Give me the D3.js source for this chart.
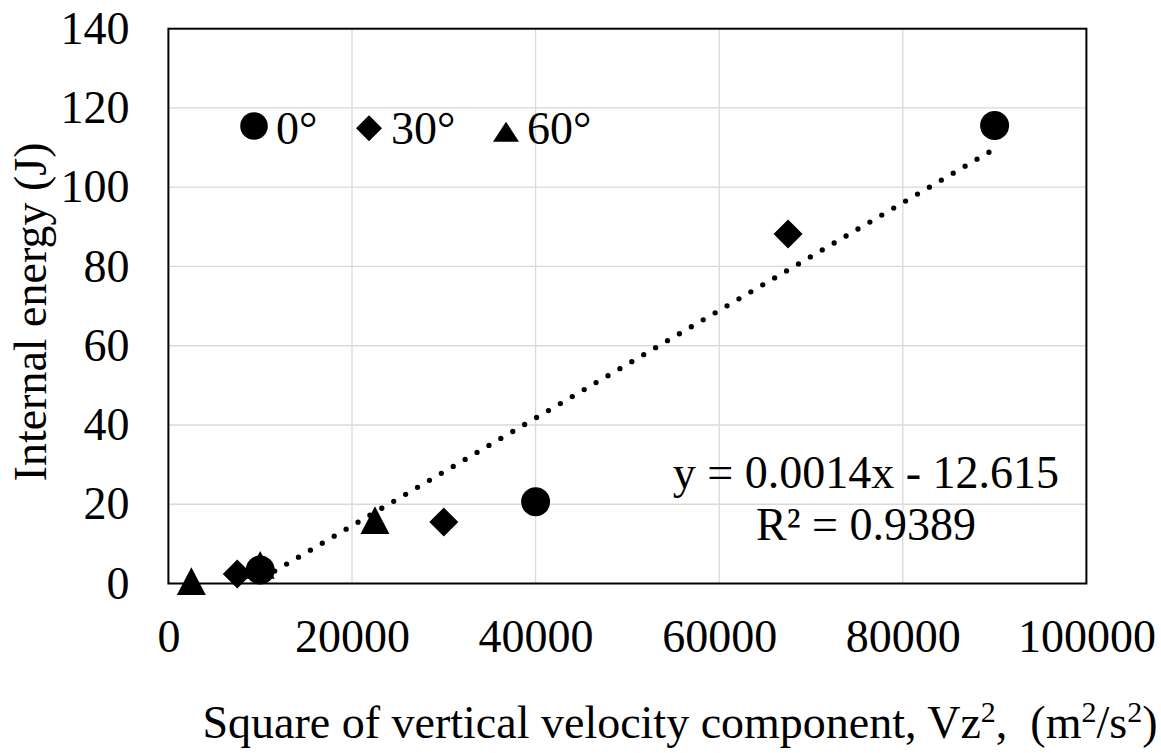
<!DOCTYPE html>
<html>
<head>
<meta charset="utf-8">
<script src="https://cdn.jsdelivr.net/npm/d3@7"></script>
<style>
  body { margin: 0; background: #fff; }
  text { font-family: "Liberation Serif", "Times New Roman", serif; fill: #000; }
</style>
</head>
<body>
<div id="chart-area"></div>
<script>
// values
let series = ["0°", "30°", "60°"];
let x0 = [10000, 40000, 90000];
let y0 = [3.4, 20.6, 115.6];
let x30 = [7500, 30000, 67500];
let y30 = [2.4, 15.5, 88.2];
let x60 = [2500, 22500, 10000];
let y60 = [0.6, 16.0, 4.7];
let xTicks = [0, 20000, 40000, 60000, 80000, 100000];
let yTicks = [0, 20, 40, 60, 80, 100, 120, 140];

let W = 1161, H = 753;
let pLeft = 168.4, pRight = 1086.4, pTop = 28.7, pBottom = 583.5;
let fs = 46;

let svg = d3.select("#chart-area").append("svg")
	.attr("width", W)
	.attr("height", H);

let x = d3.scaleLinear().domain([0, 100000]).range([pLeft, pRight]);
let y = d3.scaleLinear().domain([0, 140]).range([pBottom, pTop]);

// gridlines
svg.append("g").selectAll("line").data(xTicks.slice(1, -1)).enter()
	.append("line")
	.attr("x1", d => x(d)).attr("x2", d => x(d))
	.attr("y1", pTop).attr("y2", pBottom)
	.attr("stroke", "#d9d9d9").attr("stroke-width", 1.3);
svg.append("g").selectAll("line").data(yTicks.slice(1, -1)).enter()
	.append("line")
	.attr("x1", pLeft).attr("x2", pRight)
	.attr("y1", d => y(d)).attr("y2", d => y(d))
	.attr("stroke", "#d9d9d9").attr("stroke-width", 1.3);

// axes (labels only)
let xAxis = svg.append("g")
	.attr("transform", "translate(0," + pBottom + ")")
	.call(d3.axisBottom(x).tickValues(xTicks).tickSize(0).tickPadding(35.5).tickFormat(d3.format("d")));
let yAxis = svg.append("g")
	.attr("transform", "translate(" + pLeft + ",0)")
	.call(d3.axisLeft(y).tickValues(yTicks).tickSize(0).tickPadding(39));
[xAxis, yAxis].forEach(a => {
	a.select(".domain").remove();
	a.selectAll("text").attr("font-size", fs).attr("font-family", "Liberation Serif, Times New Roman, serif").attr("fill", "#000");
});

// frame
svg.append("rect")
	.attr("x", pLeft).attr("y", pTop)
	.attr("width", pRight - pLeft).attr("height", pBottom - pTop)
	.attr("fill", "none").attr("stroke", "#000").attr("stroke-width", 2);

// linear trendline from all points
let allX = x0.concat(x30, x60), allY = y0.concat(y30, y60);
let mx = d3.mean(allX), my = d3.mean(allY);
let slope = d3.sum(allX, (d, i) => (d - mx) * (allY[i] - my)) / d3.sum(allX, d => (d - mx) * (d - mx));
let icpt = my - slope * mx;
let ext = d3.extent(allX);

svg.append("clipPath").attr("id", "plotclip")
	.append("rect").attr("x", pLeft).attr("y", pTop)
	.attr("width", pRight - pLeft).attr("height", pBottom - pTop);

let line = d3.line().x(d => x(d)).y(d => y(slope * d + icpt));
svg.append("path")
	.attr("clip-path", "url(#plotclip)")
	.attr("d", line(ext))
	.attr("fill", "none")
	.attr("stroke", "#000")
	.attr("stroke-width", 5.3)
	.attr("stroke-linecap", "round")
	.attr("stroke-dasharray", "0 13.8");

// marker shapes
function triangle(w, h) {
	return {draw: (ctx) => {
		ctx.moveTo(0, -h / 2);
		ctx.lineTo(w / 2, h / 2);
		ctx.lineTo(-w / 2, h / 2);
		ctx.closePath();
	}};
}
function diamond(r) {
	return {draw: (ctx) => {
		ctx.moveTo(0, -r);
		ctx.lineTo(r, 0);
		ctx.lineTo(0, r);
		ctx.lineTo(-r, 0);
		ctx.closePath();
	}};
}
function circle(r) {
	return {draw: (ctx) => {
		ctx.moveTo(r, 0);
		ctx.arc(0, 0, r, 0, 2 * Math.PI);
	}};
}

let groups = [
	{xs: x60, ys: y60, shape: triangle(29, 27.7)},
	{xs: x30, ys: y30, shape: diamond(14.5)},
	{xs: x0, ys: y0, shape: circle(14.5)}
];
groups.forEach(g => {
	svg.append("g").selectAll("path").data(g.xs).enter()
		.append("path")
		.attr("d", d3.symbol().type(g.shape)())
		.attr("transform", (d, i) => "translate(" + x(d) + "," + y(g.ys[i]) + ")")
		.attr("fill", "#000");
});

// legend
let legendItems = [
	{label: series[0], shape: circle(13.8), mx: 254, my: 126, tx: 276},
	{label: series[1], shape: diamond(13), mx: 369, my: 128.3, tx: 391},
	{label: series[2], shape: triangle(26, 20), mx: 506, my: 131.7, tx: 527}
];
let leg = svg.append("g");
legendItems.forEach(d => {
	leg.append("path")
		.attr("d", d3.symbol().type(d.shape)())
		.attr("transform", "translate(" + d.mx + "," + d.my + ")")
		.attr("fill", "#000");
	leg.append("text")
		.attr("x", d.tx).attr("y", 144)
		.attr("font-size", fs)
		.text(d.label);
});

// equation
svg.append("text")
	.attr("x", 866).attr("y", 488)
	.attr("text-anchor", "middle")
	.attr("font-size", fs)
	.text("y = 0.0014x - 12.615");
svg.append("text")
	.attr("x", 866).attr("y", 540)
	.attr("text-anchor", "middle")
	.attr("font-size", fs)
	.text("R² = 0.9389");

// axis titles
svg.append("text")
	.attr("transform", "translate(46,312) rotate(-90)")
	.attr("text-anchor", "middle")
	.attr("font-size", fs)
	.text("Internal energy (J)");

let xt = svg.append("text")
	.attr("x", 680).attr("y", 738)
	.attr("text-anchor", "middle")
	.attr("font-size", fs)
	.style("white-space", "pre");
let parts = [["Square of vertical velocity component, Vz", 0], ["2", 1], [",  (m", 0], ["2", 1], ["/s", 0], ["2", 1], [")", 0]];
parts.forEach((p, i) => {
	let t = xt.append("tspan").text(p[0]);
	if (p[1]) t.attr("dy", -16).attr("font-size", 30);
	else if (i > 0) t.attr("dy", 16);
});
</script>
</body>
</html>
